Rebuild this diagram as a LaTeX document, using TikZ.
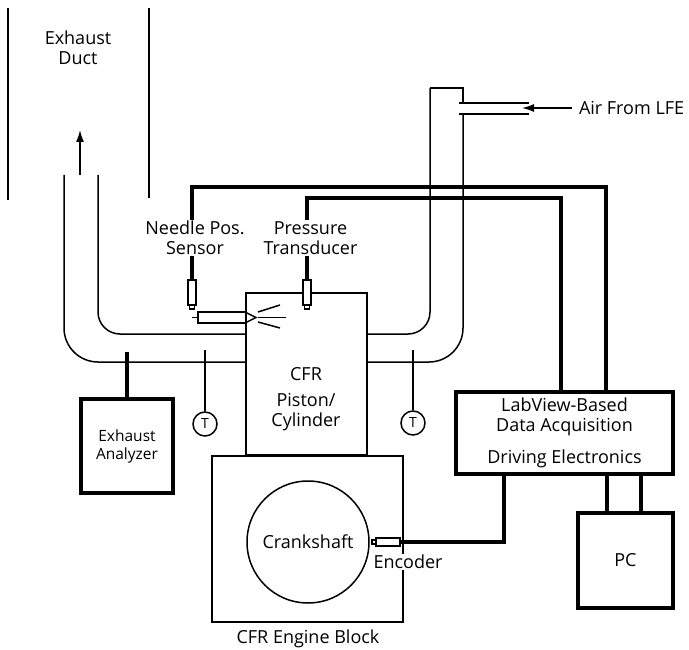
\documentclass[tikz,border=0pt]{standalone}
\usepackage{fontspec}
\setmainfont{Open Sans}
\usetikzlibrary{arrows.meta}
\tikzset{
    thinline/.style={line width=1.5pt},
    sigline/.style={line width=3.2pt},
    tagtext/.style={inner sep=1pt, align=center, font=\fontsize{18}{20}\selectfont},
    maskedtag/.style={tagtext, fill=white},
    rigbox/.style={draw, thinline, fill=white, inner sep=0pt},
    instrbox/.style={draw, sigline, fill=white, inner sep=0pt, align=center, font=\fontsize{18}{20}\selectfont},
    probe/.style={draw, thinline, fill=white, inner sep=0pt, minimum width=8pt, minimum height=25pt},
    probetip/.style={draw, thinline, fill=white, inner sep=0pt, minimum width=5pt, minimum height=4pt},
    tempnode/.style={draw, circle, thinline, fill=white, inner sep=0pt, minimum size=24pt, font=\fontsize{14}{16}\selectfont}
}
\begin{document}
\begin{tikzpicture}[x=1pt,y=-1pt]
    \useasboundingbox (0,0) rectangle (689,650);
    % Exhaust duct
    \draw[thinline] (8,8) -- (8,200);
    \draw[thinline] (149,8) -- (149,198);
    \node[tagtext] (ductlabel) at (78,48) {Exhaust\\Duct};
    \coordinate (flowstart) at (80,175);
    \coordinate (flowtip) at (80,130);
    \draw[thinline, -{Latex[length=12pt,width=8pt]}] (flowstart) -- (flowtip);
    % Exhaust pipe
    \draw[thinline, rounded corners=34pt] (64,175) -- (64,362) -- (246,362);
    \draw[thinline, rounded corners=22pt] (98,175) -- (98,334) -- (246,334);
    % Intake pipe
    \draw[thinline, rounded corners=22pt] (367,334) -- (430,334) -- (430,88);
    \draw[thinline] (430,88) -- (463,88) -- (463,103);
    \draw[thinline, rounded corners=34pt] (367,362) -- (463,362) -- (463,114);
    \draw[thinline] (459,103) -- (529,103);
    \draw[thinline] (459,114) -- (529,114);
    \node[tagtext, anchor=west, outer sep=4pt, inner sep=3pt] (airlabel) at (572,108) {Air From LFE};
    \coordinate (airtip) at (522,108);
    \draw[thinline, -{Latex[length=12pt,width=8pt]}] (airlabel.west) -- (airtip);
    % Cylinder and engine block
    \node[rigbox, minimum width=121pt, minimum height=162pt] (cylinder) at (306.5,374) {};
    \node[tagtext] (cylinderlabel) at (306,399) {CFR\\[6pt]Piston/\\Cylinder};
    \node[rigbox, minimum width=191pt, minimum height=166pt] (block) at (307.5,539) {};
    \node[draw, circle, thinline, inner sep=0pt, minimum size=122pt, font=\fontsize{18}{20}\selectfont] (crank) at (308,542) {Crankshaft};
    \node[tagtext, anchor=north] (blocklabel) at (308,629) {CFR Engine Block};
    % Injector
    \node[draw, thinline, fill=white, inner sep=0pt, minimum width=48pt, minimum height=11pt] (injector) at (222,317.5) {};
    \coordinate (injectorstub) at (192,317.5);
    \draw[thinline] (injectorstub) -- (injector.west);
    \draw[thinline] (245,312) -- (256,317.5) -- (245,323);
    \draw[thinline] (258,312) -- (280,305);
    \draw[thinline] (258,317.5) -- (286,317.5);
    \draw[thinline] (258,322) -- (280,328);
    % Sensors
    \node[probe] (needleprobe) at (192,292.5) {};
    \node[probetip] (needletip) at (192,307) {};
    \node[probe] (pressureprobe) at (307,292.5) {};
    \node[probetip] (pressuretip) at (307,307) {};
    \node[draw, thinline, fill=white, inner sep=0pt, minimum width=24pt, minimum height=8pt] (encoderprobe) at (388,542) {};
    \node[draw, thinline, fill=white, inner sep=0pt, minimum width=4pt, minimum height=4pt] (encodertip) at (374,542) {};
    % Instruments
    \node[instrbox, minimum width=217pt, minimum height=82pt] (daq) at (564.5,433) {LabView-Based\\Data Acquisition\\[12pt]Driving Electronics};
    \node[instrbox, minimum width=95pt, minimum height=95pt] (pc) at (625.5,560.5) {PC};
    \node[instrbox, minimum width=92pt, minimum height=94pt, font=\fontsize{15.5}{18}\selectfont] (analyzer) at (127,446) {Exhaust\\Analyzer};
    % Signal lines
    \coordinate (needlecorner) at (606,187);
    \coordinate (pressurecorner) at (561,198);
    \coordinate (encodercorner) at (504,542);
    \coordinate (samplepoint) at (127,352);
    \draw[sigline] (needleprobe.north) |- (needlecorner) -- (needlecorner |- daq.north);
    \draw[sigline] (pressureprobe.north) |- (pressurecorner) -- (pressurecorner |- daq.north);
    \draw[sigline] (encoderprobe.east) -- (encodercorner) -- (encodercorner |- daq.south);
    \draw[sigline] (analyzer.north) -- (samplepoint);
    \draw[sigline] (607,474) -- (607,513);
    \draw[sigline] (641,474) -- (641,513);
    % Labels over the lines
    \node[maskedtag] (needlelabel) at (195,238) {Needle Pos.\\Sensor};
    \node[maskedtag] (pressurelabel) at (310.5,238) {Pressure\\Transducer};
    \node[maskedtag] (encoderlabel) at (408,562) {Encoder};
    % Thermocouples
    \node[tempnode] (templeft) at (205,424) {T};
    \node[tempnode] (tempright) at (413,423) {T};
    \coordinate (templeftend) at (205,350);
    \coordinate (temprightend) at (413,350);
    \draw[thinline] (templeft) -- (templeftend);
    \draw[thinline] (tempright) -- (temprightend);
\end{tikzpicture}
\end{document}
